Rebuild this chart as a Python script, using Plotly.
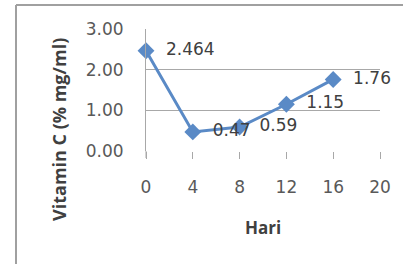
import plotly.graph_objects as go

hari = [0, 4, 8, 12, 16]
vitamin_c = [2.464, 0.47, 0.59, 1.15, 1.76]
labels = ["2.464", "0.47", "0.59", "1.15", "1.76"]
x_ticks = [0, 4, 8, 12, 16, 20]
y_ticks = [0, 1, 2, 3]
y_tick_labels = ["0.00", "1.00", "2.00", "3.00"]

W, H = 403, 264
L, R, T, B = 146, 23, 29, 113
pw, ph = W - L - R, H - T - B

def px_to_paper(px, py):
    return (px - L) / pw, (H - B - py) / ph

fig = go.Figure()
fig.add_trace(go.Scatter(
    x=hari, y=vitamin_c, mode="lines+markers+text",
    text=["  " + t for t in labels], textposition="middle right",
    textfont=dict(family="DejaVu Sans", size=17, color="#404040"),
    line=dict(color="#5a8ac6", width=3),
    marker=dict(symbol="diamond", size=13, color="#5a8ac6"),
    cliponaxis=False, showlegend=False,
))

# chart-area border (top and left edges visible)
bx, by = px_to_paper(16, 5)
rx, _ = px_to_paper(W + 5, 5)
_, bb = px_to_paper(16, H + 5)
fig.add_shape(type="line", xref="paper", yref="paper", x0=bx, y0=by, x1=rx, y1=by,
              line=dict(color="#a0a0a0", width=2))
fig.add_shape(type="line", xref="paper", yref="paper", x0=bx, y0=by, x1=bx, y1=bb,
              line=dict(color="#a0a0a0", width=2))
# extension of vertical axis line down to tick length
_, ext = px_to_paper(L, H - B + 7)
fig.add_shape(type="line", xref="paper", yref="paper", x0=0, y0=ext, x1=0, y1=0,
              line=dict(color="#a8a8a8", width=1))

# y-axis title placed as in reference
tx, ty = px_to_paper(59, 130)
fig.add_annotation(text="<b>Vitamin C (% mg/ml)</b>", xref="paper", yref="paper",
                   x=tx, y=ty, showarrow=False, textangle=-90,
                   xanchor="center", yanchor="middle",
                   font=dict(family="Open Sans", size=18, color="#404040"))

fig.update_layout(
    width=W, height=H,
    margin=dict(l=L, r=R, t=T, b=B),
    paper_bgcolor="white", plot_bgcolor="white",
    font=dict(family="DejaVu Sans", color="#595959"),
    xaxis=dict(
        range=[0, 20], tickvals=x_ticks, ticktext=[str(v) for v in x_ticks],
        showgrid=False, zeroline=False, showline=False,
        ticks="outside", ticklen=7, tickcolor="#a8a8a8", tickwidth=1,
        ticklabelstandoff=14,
        tickfont=dict(family="DejaVu Sans", size=17, color="#595959"),
        title=dict(text="<b>Hari</b>", font=dict(family="Open Sans", size=17, color="#404040"), standoff=25),
    ),
    yaxis=dict(
        range=[0, 3], tickvals=y_ticks, ticktext=y_tick_labels,
        showgrid=True, gridcolor="#a8a8a8", gridwidth=1,
        zeroline=True, zerolinecolor="white", zerolinewidth=1,
        showline=True, linecolor="#a8a8a8", linewidth=1,
        ticks="", ticklabelstandoff=18,
        tickfont=dict(family="DejaVu Sans", size=17, color="#595959"),
    ),
)

fig.write_html("out.html", config={"displayModeBar": False},
               post_script="document.body.style.margin='0';document.body.style.overflow='hidden';")
